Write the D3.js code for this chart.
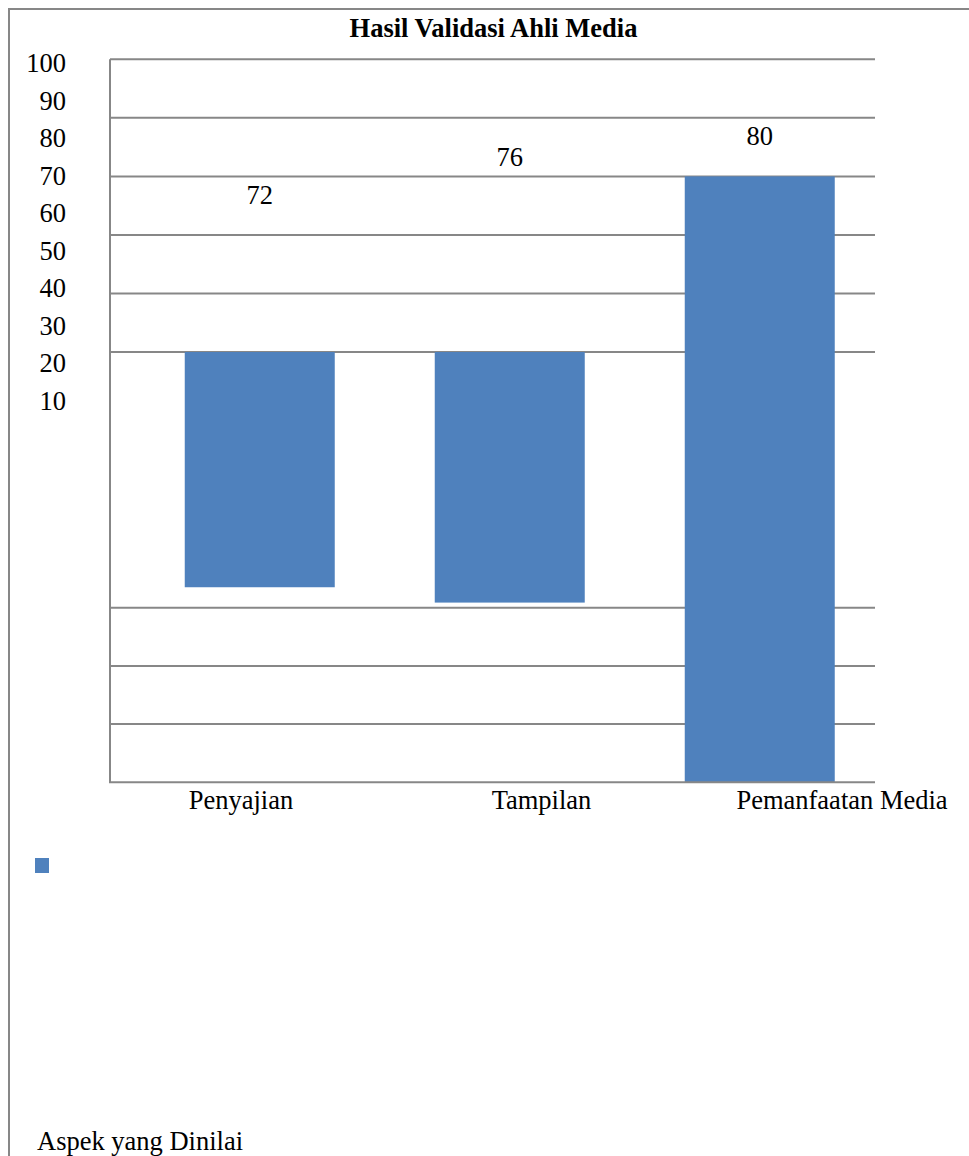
<!DOCTYPE html>
<html><head><meta charset="utf-8">
<script src="https://cdn.jsdelivr.net/npm/d3@7"></script>
<style>body{margin:0;background:#fff}svg{display:block}</style>
</head><body>
<svg id="c" width="969" height="1156"></svg>
<script>
// ---- data ----
const chartTitle = "Hasil Validasi Ahli Media";
const categories = ["Penyajian", "Tampilan", "Pemanfaatan Media"];
const values = [72, 76, 80];
// bar extents as drawn in the reference (in y-axis units)
const barBase = [30.8, 30.2, 0];
const barTop = [40, 40, 70];
// level where each value label sits (y-axis units)
const labelLevel = [66.8, 73.3, 76.9];
const tickLabels = [100, 90, 80, 70, 60, 50, 40, 30, 20, 10];
const gridLevels = [10, 20, 30, 40, 50, 60, 70, 80, 90];
const xAxisTitle = "Aspek yang Dinilai";

// ---- layout ----
const W = 969, H = 1156;
const plotL = 110, plotR = 875;
const FONT = "'Liberation Serif','Times New Roman',serif";
const FS = 26.5;
const barColor = "#4F81BD";
const gridColor = "#878787";

const svg = d3.select("#c");

// frame
svg.append("path")
  .attr("d", `M9,${H} V9 H${W}`)
  .attr("fill", "none").attr("stroke", gridColor).attr("stroke-width", 2);

// scales
const y = d3.scaleLinear().domain([0, 30, 40, 90]).range([782.3, 607.7, 352, 59.3]);
const x = d3.scaleBand().domain(categories).range([plotL, plotR])
  .paddingInner(0.4).paddingOuter(0.23).align(0.65);
const xLabel = d3.scalePoint().domain(categories).range([241, 842]);
const tickY = d3.scaleLinear().domain([100, 10]).range([63.3, 400.7]);

// title
svg.append("text").attr("x", 493.5).attr("y", 28)
  .attr("text-anchor", "middle").attr("dominant-baseline", "central")
  .attr("font-family", FONT).attr("font-weight", "bold").attr("font-size", FS)
  .text(chartTitle);

// gridlines
svg.append("g").selectAll("line").data(gridLevels).join("line")
  .attr("x1", plotL).attr("x2", plotR)
  .attr("y1", d => y(d)).attr("y2", d => y(d))
  .attr("stroke", gridColor).attr("stroke-width", 2);

// bars
const data = categories.map((c, i) => ({c, v: values[i], b: barBase[i], t: barTop[i], l: labelLevel[i]}));
svg.append("g").selectAll("rect").data(data).join("rect")
  .attr("x", d => x(d.c)).attr("width", x.bandwidth())
  .attr("y", d => y(d.t)).attr("height", d => y(d.b) - y(d.t))
  .attr("fill", barColor);

// axes lines
svg.append("line").attr("x1", plotL).attr("x2", plotL).attr("y1", y(90)).attr("y2", y(0))
  .attr("stroke", gridColor).attr("stroke-width", 2);
svg.append("line").attr("x1", plotL - 1).attr("x2", plotR).attr("y1", y(0)).attr("y2", y(0))
  .attr("stroke", gridColor).attr("stroke-width", 2);

// value labels
svg.append("g").selectAll("text").data(data).join("text")
  .attr("x", d => x(d.c) + x.bandwidth() / 2).attr("y", d => y(d.l))
  .attr("text-anchor", "middle").attr("dominant-baseline", "central")
  .attr("font-family", FONT).attr("font-size", FS)
  .text(d => d.v);

// y tick labels
svg.append("g").selectAll("text").data(tickLabels).join("text")
  .attr("x", 66).attr("y", d => tickY(d))
  .attr("text-anchor", "end").attr("dominant-baseline", "central")
  .attr("font-family", FONT).attr("font-size", FS)
  .text(d => d);

// category labels
svg.append("g").selectAll("text").data(categories).join("text")
  .attr("x", d => xLabel(d)).attr("y", 800)
  .attr("text-anchor", "middle").attr("dominant-baseline", "central")
  .attr("font-family", FONT).attr("font-size", FS)
  .text(d => d);

// legend marker
svg.append("rect").attr("x", 35).attr("y", 858).attr("width", 14).attr("height", 15)
  .attr("fill", barColor);

// axis title
svg.append("text").attr("x", 37).attr("y", 1141)
  .attr("dominant-baseline", "central")
  .attr("font-family", FONT).attr("font-size", FS)
  .text(xAxisTitle);
</script>
</body></html>
